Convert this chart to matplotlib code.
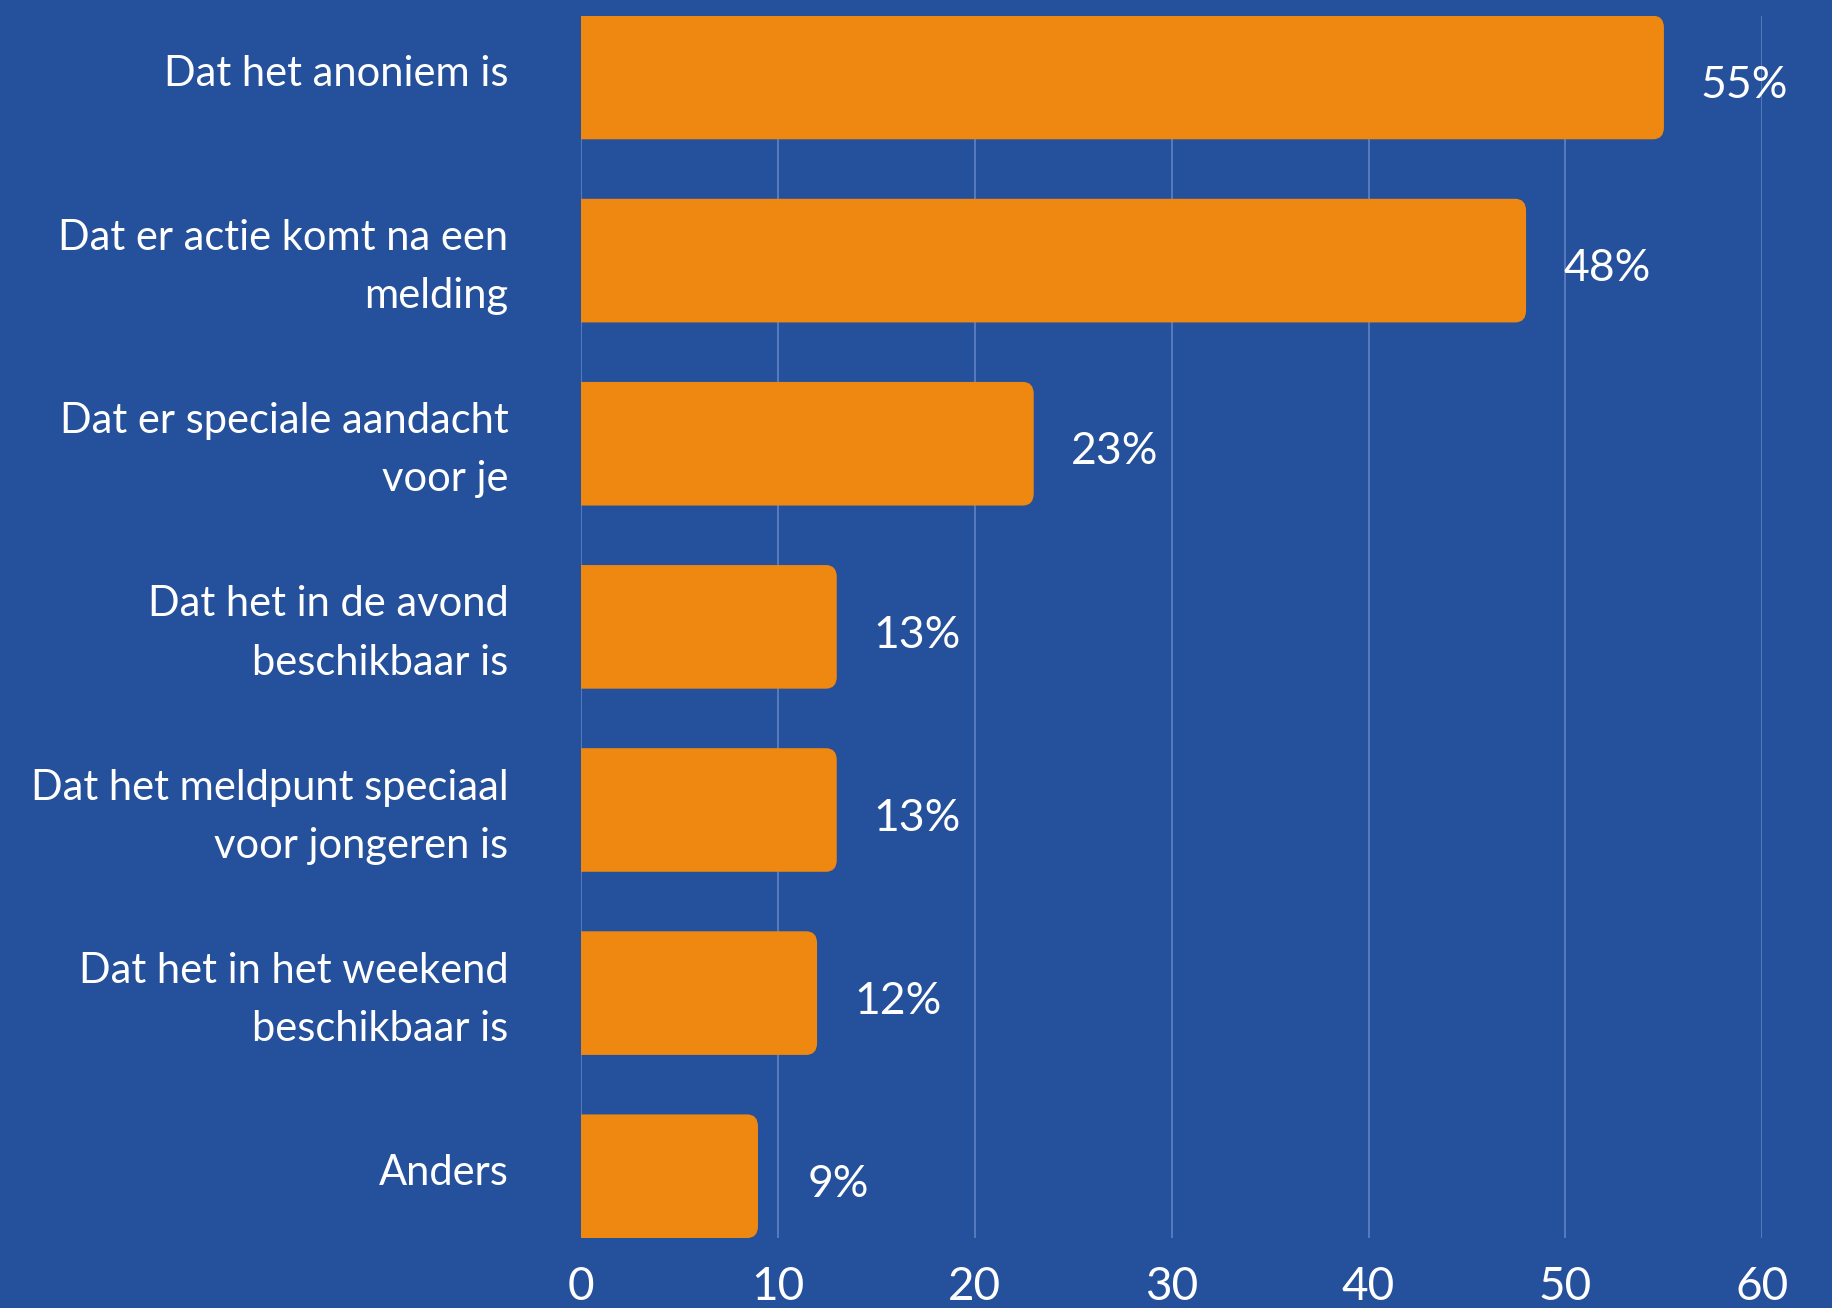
import matplotlib
matplotlib.use("Agg")
from matplotlib import pyplot as plt
from matplotlib.path import Path
from matplotlib.patches import PathPatch
from matplotlib.transforms import ScaledTranslation

labels = [
    "Dat het anoniem is",
    "Dat er actie komt na een\nmelding",
    "Dat er speciale aandacht\nvoor je",
    "Dat het in de avond\nbeschikbaar is",
    "Dat het meldpunt speciaal\nvoor jongeren is",
    "Dat het in het weekend\nbeschikbaar is",
    "Anders",
]
values = [55, 48, 23, 13, 13, 12, 9]
xticks = [0, 10, 20, 30, 40, 50, 60]

bg = "#25509b"
orange = "#ef8810"
grid_col = "#5f82c2"

plt.rcParams["font.family"] = ["Lato", "DejaVu Sans"]

fig = plt.figure(figsize=(18.32, 13.08), dpi=100, facecolor=bg)
ax = fig.add_axes([0.317, 0.0535, 0.645, 0.9345])
ax.set_facecolor(bg)

ypos = list(range(len(values)))
bar_h = 0.675

# x grid behind the bars
for t in xticks:
    ax.axvline(t, color=grid_col, lw=1.2, zorder=0)

bars = ax.barh(ypos, values, height=bar_h, color=orange, lw=0, zorder=2)

# swap each bar for one with rounded right corners
rx = 0.55    # corner radius in x units
ry = 0.065   # same radius in y units
for b in bars:
    x0, y0 = b.get_x(), b.get_y()
    x1, y1 = x0 + b.get_width(), y0 + b.get_height()
    verts = [(x0, y0), (x1 - rx, y0), (x1, y0), (x1, y0 + ry),
             (x1, y1 - ry), (x1, y1), (x1 - rx, y1), (x0, y1), (x0, y0)]
    codes = [Path.MOVETO, Path.LINETO, Path.CURVE3, Path.CURVE3,
             Path.LINETO, Path.CURVE3, Path.CURVE3, Path.LINETO, Path.CLOSEPOLY]
    ax.add_patch(PathPatch(Path(verts, codes), fc=orange, ec="none", zorder=2))
    b.set_visible(False)

for y, v in zip(ypos, values):
    ax.text(v + 4.1, y + 0.045, f"{v}%", color="white", fontsize=32,
            va="center", ha="center", zorder=3)

ax.set_xlim(0, 60)
ax.set_ylim(len(values) - 1 + bar_h / 2, -bar_h / 2)
ax.set_xticks(xticks)
ax.set_yticks(ypos)
ax.set_yticklabels(labels)
ax.tick_params(axis="y", length=0, pad=52, labelsize=30, labelcolor="white")
ax.tick_params(axis="x", length=0, pad=20, labelsize=33, labelcolor="white")
for s in ax.spines.values():
    s.set_visible(False)
shift_up = ScaledTranslation(0, 5 / 72, fig.dpi_scale_trans)
for lab in ax.get_yticklabels():
    lab.set_linespacing(1.65)
    lab.set_transform(lab.get_transform() + shift_up)

fig.savefig("out.png", dpi=100, facecolor=bg)
